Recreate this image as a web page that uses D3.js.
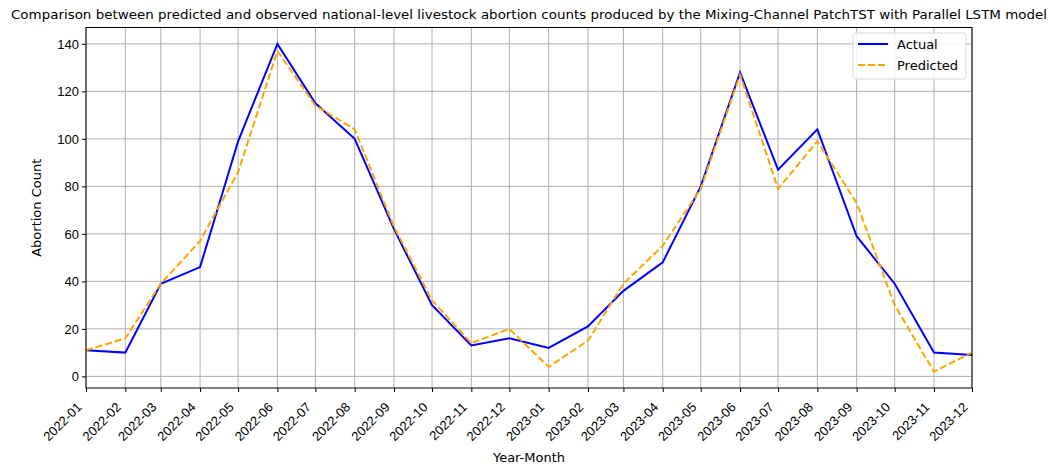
<!DOCTYPE html>
<html>
<head>
<meta charset="utf-8">
<script src="https://cdn.jsdelivr.net/npm/d3@7"></script>
<style>
  html, body { margin: 0; padding: 0; background: #fff; }
  svg { display: block; font-family: "DejaVu Sans", sans-serif; }
</style>
</head>
<body>
<svg id="chart" width="1051" height="468"></svg>
<script>
// Monthly national-level livestock abortion counts
const months = ["2022-01","2022-02","2022-03","2022-04","2022-05","2022-06","2022-07","2022-08",
  "2022-09","2022-10","2022-11","2022-12","2023-01","2023-02","2023-03","2023-04",
  "2023-05","2023-06","2023-07","2023-08","2023-09","2023-10","2023-11","2023-12"];
const actual = [11, 10, 39, 46, 99, 140, 115, 100, 62, 30, 13, 16, 12, 21, 36, 48,
  80, 128, 87, 104, 59, 39, 10, 9];
const predicted = [11, 16, 39, 57, 86, 137, 114, 104, 63, 32, 14, 20, 4, 15, 39, 55,
  79, 127, 79, 99, 73, 30, 2, 10];
const yTicks = [0, 20, 40, 60, 80, 100, 120, 140];

const titleText = "Comparison between predicted and observed national-level livestock abortion counts produced by the Mixing-Channel PatchTST with Parallel LSTM model";

const svg = d3.select("#chart");
const margin = {left: 86, right: 1051 - 972, top: 27.5, bottom: 468 - 388};
const W = 1051, H = 468;
const parse = d3.timeParse("%Y-%m");
const dates = months.map(parse);

const x = d3.scaleTime()
  .domain(d3.extent(dates))
  .range([margin.left, W - margin.right]);

const all = actual.concat(predicted);
const lo = d3.min(all), hi = d3.max(all), pad = (hi - lo) * 0.05;
const y = d3.scaleLinear()
  .domain([lo - pad, hi + pad])
  .range([H - margin.bottom, margin.top]);

const gridColor = "#b0b0b0";

// grid
const grid = svg.append("g");
grid.selectAll("line.vx").data(dates).join("line")
  .attr("x1", d => x(d)).attr("x2", d => x(d))
  .attr("y1", margin.top).attr("y2", H - margin.bottom)
  .attr("stroke", gridColor).attr("stroke-width", 1);
grid.selectAll("line.hy").data(yTicks).join("line")
  .attr("x1", margin.left).attr("x2", W - margin.right)
  .attr("y1", d => y(d)).attr("y2", d => y(d))
  .attr("stroke", gridColor).attr("stroke-width", 1);

// series lines
const line = (vals) => d3.line()
  .x((d, i) => x(dates[i]))
  .y(d => y(d))(vals);

svg.append("path").attr("d", line(actual))
  .attr("fill", "none").attr("stroke", "#0000ff").attr("stroke-width", 2)
  .attr("stroke-linejoin", "miter");
svg.append("path").attr("d", line(predicted))
  .attr("fill", "none").attr("stroke", "#ffa500").attr("stroke-width", 2)
  .attr("stroke-dasharray", "7,3");

// frame
svg.append("rect")
  .attr("x", margin.left).attr("y", margin.top)
  .attr("width", W - margin.right - margin.left)
  .attr("height", H - margin.bottom - margin.top)
  .attr("fill", "none").attr("stroke", "#000").attr("stroke-width", 1);

// axes
const xAxis = svg.append("g")
  .attr("transform", `translate(0,${H - margin.bottom})`)
  .call(d3.axisBottom(x).tickValues(dates).tickFormat(d3.timeFormat("%Y-%m")).tickSize(4).tickSizeOuter(0));
xAxis.select(".domain").remove();
xAxis.selectAll("text")
  .attr("font-size", 13).attr("fill", "#000")
  .attr("text-anchor", "end")
  .attr("dx", 0).attr("dy", 0)
  .attr("transform", "translate(-4,20) rotate(-45)")
  .attr("y", 0).attr("x", 0);

const yAxis = svg.append("g")
  .attr("transform", `translate(${margin.left},0)`)
  .call(d3.axisLeft(y).tickValues(yTicks).tickSize(4).tickSizeOuter(0));
yAxis.select(".domain").remove();
yAxis.selectAll("text").attr("font-size", 13).attr("fill", "#000").attr("x", -7);

// labels
svg.append("text").attr("x", (margin.left + W - margin.right) / 2).attr("y", 462)
  .attr("text-anchor", "middle").attr("font-size", 13).text("Year-Month");
svg.append("text")
  .attr("transform", `translate(41,${(margin.top + H - margin.bottom) / 2}) rotate(-90)`)
  .attr("text-anchor", "middle").attr("font-size", 13).text("Abortion Count");
svg.append("text").attr("x", (margin.left + W - margin.right) / 2).attr("y", 19)
  .attr("text-anchor", "middle").attr("font-size", 13)
  .attr("textLength", 1036).attr("lengthAdjust", "spacingAndGlyphs")
  .text(titleText);

// legend
const lg = svg.append("g").attr("transform", "translate(853,33)");
lg.append("rect").attr("width", 113).attr("height", 46).attr("rx", 3)
  .attr("fill", "#fff").attr("fill-opacity", 0.85).attr("stroke", "#d6d6d6");
const entries = [
  {name: "Actual", color: "#0000ff", dash: null},
  {name: "Predicted", color: "#ffa500", dash: "7,3"}
];
entries.forEach((e, i) => {
  const yy = 11 + i * 21;
  lg.append("line").attr("x1", 5).attr("x2", 35).attr("y1", yy).attr("y2", yy)
    .attr("stroke", e.color).attr("stroke-width", 2)
    .attr("stroke-dasharray", e.dash);
  lg.append("text").attr("x", 44).attr("y", yy + 5).attr("font-size", 13).text(e.name);
});
</script>
</body>
</html>
